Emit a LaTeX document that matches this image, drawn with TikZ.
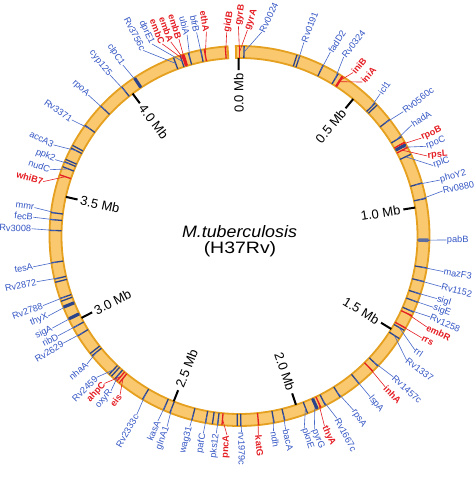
\documentclass[tikz,border=0pt]{standalone}
\usepackage{fontspec}
\setmainfont{Liberation Sans}
\definecolor{gblue}{RGB}{52,86,196}
\definecolor{gred}{RGB}{228,30,36}
\definecolor{mblue}{RGB}{44,68,140}
\definecolor{lblue}{RGB}{70,104,200}
\definecolor{boxblue}{RGB}{95,110,160}
\definecolor{ringfill}{RGB}{250,200,110}
\definecolor{ringedge}{RGB}{228,160,30}
\tikzset{
 mkblue/.style={draw=mblue, line width=1.3pt},
 mkred/.style={draw=gred, line width=1.3pt},
 ldblue/.style={draw=lblue, line width=0.6pt},
 ldred/.style={draw=gred, line width=0.6pt},
 lblblue/.style={text=gblue, font=\fontsize{9.2}{10}\selectfont, inner sep=0.3pt},
 lblred/.style={text=gred, font=\fontsize{9.2}{10}\selectfont\bfseries, inner sep=0.3pt},
 tickline/.style={draw=black, line width=2pt},
 ticklbl/.style={font=\fontsize{13}{14}\selectfont, inner sep=0pt},
 ringband/.style={fill=ringfill, draw=ringedge, line width=1.8pt},
}
% id, alpha, beta, radius, rotation, anchor, text, colour
\newcommand\gene[8]{%
  \coordinate (m#1) at (#2:184);
  \draw[mk#8] (#2:178) -- (#2:190);
  \node[lbl#8, rotate=#5, anchor=#6] (g#1) at (#3:#4) {#7};
  \draw[ld#8] (m#1) -- (g#1.#6);
}
\newcommand\gR[6]{\gene{#1}{#2}{#3}{#4}{#3}{west}{#5}{#6}}
\newcommand\gL[6]{\gene{#1}{#2}{#3}{#4}{#3+180}{east}{#5}{#6}}
\newcommand\mk[2]{\draw[mk#2] (#1:178) -- (#1:190);}
\newcommand\thk[2]{\draw[mk#2, line width=3.2pt] (#1:178.5) -- (#1:189.5);}
\newcommand\tk[5]{%
  \coordinate (ta#1) at (#2:178);
  \coordinate (tb#1) at (#2:166);
  \draw[tickline] (ta#1) -- (tb#1);
  \node[ticklbl, rotate=#3, anchor=#4] (t#1) at (#2:163) {#5};
}
\begin{document}
\begin{tikzpicture}[x=1pt,y=1pt]
\useasboundingbox (-239.5,-242) rectangle (235.5,236);
\path[ringband] (91.1:190) arc[start angle=91.1, end angle=-266.4, radius=190]
  -- (-266.4:178) arc[start angle=-266.4, end angle=91.1, radius=178] -- cycle;

\node[font=\fontsize{16.5}{18}\selectfont\itshape, xscale=1.08] (title) at (0,4.5) {M.tuberculosis};
\node[font=\fontsize{16.5}{18}\selectfont, xscale=1.18] (strain) at (0.5,-13) {(H37Rv)};

\tk{0}{90.3}{90.3}{east}{0.0 Mb}
\tk{05}{50.3}{50.3}{east}{0.5 Mb}
\tk{1}{9.2}{9.2}{east}{1.0 Mb}
\tk{15}{-31.5}{-31.5}{east}{1.5 Mb}
\tk{2}{-71.5}{-71.5}{east}{2.0 Mb}
\tk{25}{-111.7}{68.3}{west}{2.5 Mb}
\tk{3}{-152.6}{27.4}{west}{3.0 Mb}
\tk{35}{167.3}{-12.7}{west}{3.5 Mb}
\tk{4}{126.9}{-53.1}{west}{4.0 Mb}

% top cluster
\gene{gidB}{94.3}{93.6}{204}{80}{west}{gidB}{red}
\gene{gyrB}{90.0}{90.3}{210}{80}{west}{gyrB}{red}
\gene{gyrA}{90.0}{87.8}{206}{70}{west}{gyrA}{red}
\gene{Rv0024}{88.6}{83.8}{205}{64}{west}{Rv0024}{blue}
\gene{Rv0191}{71.5}{71.6}{204}{69}{west}{Rv0191}{blue}
\mk{72.4}{blue}
\gene{fadD2}{63.9}{63.7}{205}{58}{west}{fadD2}{blue}
\gene{Rv0324}{58.7}{59.8}{207}{52}{west}{Rv0324}{blue}
\gene{iniB}{57.3}{55.2}{199}{50}{west}{iniB}{red}
\gene{iniA}{57.0}{51.4}{197}{48}{west}{iniA}{red}
\gene{icl1}{44.4}{45.3}{200}{56}{west}{icl1}{blue}
\mk{43.6}{blue}
\gR{Rv0560c}{37.8}{37.2}{205.6}{Rv0560c}{blue}
\gR{hadA}{31.5}{32.8}{205}{hadA}{blue}
\gene{rpoC}{28.8}{25.7}{206.8}{20}{west}{rpoC}{blue}
\thk{28.8}{blue}
\gene{rpoB}{29.6}{28.3}{206.5}{25}{west}{rpoB}{red}
\gene{rpsL}{27.8}{23.1}{204}{5}{west}{rpsL}{red}
\gene{rplC}{25.5}{20.0}{206}{20}{west}{rplC}{blue}
\gR{phoY2}{16.2}{15.6}{208}{phoY2}{blue}
\gR{Rv0880}{11.4}{12.5}{208}{Rv0880}{blue}
\gR{pabB}{-1.3}{-1.1}{207}{pabB}{blue}
\draw[draw=boxblue, line width=3.6pt] (-1.3:179) -- (-1.3:189);
\gR{mazF3}{-9.7}{-9.9}{207}{mazF3}{blue}
\gR{Rv1152}{-13.9}{-14.1}{208}{Rv1152}{blue}
\gR{sigI}{-17.8}{-17.6}{207}{sigI}{blue}
\gR{sigE}{-20.4}{-20.2}{206.5}{sigE}{blue}
\gR{Rv1258}{-23.6}{-23.0}{207}{Rv1258}{blue}
\gR{embR}{-24.8}{-25.9}{208}{embR}{red}
\gR{rrl}{-29.8}{-33}{209}{rrl}{blue}
\gR{rrs}{-29.0}{-29.2}{208.5}{rrs}{red}
\gR{Rv1337}{-32.7}{-36.6}{208}{Rv1337}{blue}
\gR{Rv1457c}{-43.2}{-42.5}{208.5}{Rv1457c}{blue}
\gR{inhA}{-45.4}{-46}{209.5}{inhA}{red}
\gR{lspA}{-51}{-50.9}{207}{lspA}{blue}
\gR{rpsA}{-58}{-56.8}{208}{rpsA}{blue}
\gR{Rv1667c}{-63.1}{-61.9}{206.6}{Rv1667c}{blue}
\gR{pyrG}{-65.8}{-68.8}{207}{pyrG}{blue}
\thk{-65.8}{blue}
\gR{thyA}{-64.6}{-65.9}{208}{thyA}{red}
\gR{pknE}{-69}{-71.4}{203}{pknE}{blue}
\gR{bacA}{-76.2}{-76.6}{199}{bacA}{blue}
\gR{ndh}{-79.5}{-80.1}{198}{ndh}{blue}
\gR{katG}{-84.2}{-84.6}{200}{katG}{red}
\gR{rv1979c}{-89.6}{-89.4}{196}{rv1979c}{blue}
\mk{-90.7}{blue}

% left half
\gL{pncA}{-95.3}{-93.6}{199.4}{pncA}{red}
\gL{pks12}{-96.6}{-96.7}{198.6}{pks12}{blue}
\mk{-98.2}{blue}
\gL{pafC}{-100.3}{-100.4}{200.6}{pafC}{blue}
\gL{wag31}{-104.5}{-104.6}{197}{wag31}{blue}
\gL{glnA1}{-111.5}{-110.8}{204}{glnA1}{blue}
\gL{kasA}{-113.6}{-113.8}{202}{kasA}{blue}
\gL{Rv2333c}{-120.7}{-119.9}{206.4}{Rv2333c}{blue}
\gL{eis}{-129.3}{-126.9}{199}{eis}{red}
\gL{oxyR}{-131.1}{-129.7}{201}{oxyR}{blue}
\gL{ahpC}{-130.2}{-132.5}{200}{ahpC}{red}
\gL{Rv2459}{-133.3}{-135.3}{201}{Rv2459}{blue}
\mk{-132.4}{blue}
\gL{nhaA}{-140.9}{-140}{199}{nhaA}{blue}
\mk{-141.8}{blue}
\gL{Rv2629}{-148.3}{-148.7}{206.3}{Rv2629}{blue}
\gL{ribD}{-151.1}{-151.2}{207}{ribD}{blue}
\gL{sigA}{-154.1}{-153.8}{208.6}{sigA}{blue}
\thk{-154.1}{blue}
\gL{thyX}{-158}{-157.3}{207.5}{thyX}{blue}
\thk{-158}{blue}
\gL{Rv2788}{-160.8}{-160.5}{208.5}{Rv2788}{blue}
\mk{-159.9}{blue}
\gL{Rv2872}{-166.9}{-167.3}{208}{Rv2872}{blue}
\mk{-165.9}{blue}
\gL{tesA}{-171.9}{-171.5}{208.5}{tesA}{blue}
\gL{Rv3008}{178.3}{178}{208}{Rv3008}{blue}
\gL{fecB}{175}{174.8}{207}{fecB}{blue}
\gL{mmr}{172.9}{172.1}{207}{mmr}{blue}
\gL{whiB7}{161.2}{164.5}{203.6}{whiB7}{red}
\gL{nudC}{158.6}{160.7}{200.6}{nudC}{blue}
\gL{ppk2}{157}{157.5}{199.5}{ppk2}{blue}
\mk{156.2}{blue}
\gL{accA3}{152.4}{153.9}{207}{accA3}{blue}
\mk{151.5}{blue}
\gL{Rv3371}{144.4}{145.3}{204}{Rv3371}{blue}
\gL{rpoA}{136.9}{137}{206.7}{rpoA}{blue}
\gL{cyp125}{128.3}{128.8}{206.6}{cyp125}{blue}
\gL{clpC1}{123.6}{124.3}{207}{clpC1}{blue}
\thk{123.6}{blue}
\gL{Rv3756c}{110.3}{117.4}{209}{Rv3756c}{blue}
\gL{dprE1}{108.2}{114.5}{211}{dprE1}{blue}
\gL{embC}{107.3}{111.9}{207}{embC}{red}
\gL{embA}{107.3}{109.5}{206}{embA}{red}
\gL{embB}{107.3}{107.1}{206}{embB}{red}
\thk{107.3}{red}
\gL{ubiA}{105.6}{104.6}{208}{ubiA}{blue}
\gL{bfrB}{101.8}{101.9}{208}{bfrB}{blue}
\gL{ethA}{100.7}{99.2}{207}{ethA}{red}
\end{tikzpicture}
\end{document}
